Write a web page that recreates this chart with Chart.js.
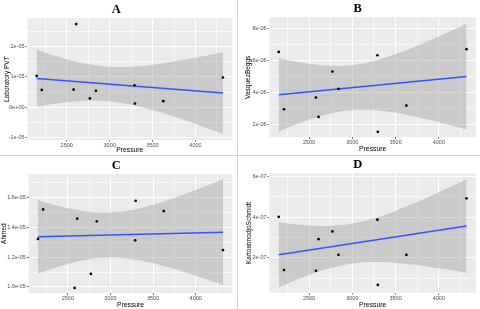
<!DOCTYPE html>
<html><head><meta charset="utf-8">
<script src="https://cdn.jsdelivr.net/npm/chart.js@4/dist/chart.umd.min.js"></script>
<style>
html,body{margin:0;padding:0;background:#fff;}
#wrap{position:relative;width:480px;height:309px;overflow:hidden;background:#fff;}
.p{position:absolute;}
.sep{position:absolute;background:#d6d6d6;}
</style></head><body>
<div id="wrap">
<div class="p" style="left:0;top:0;width:237px;height:155px"><canvas id="cA"></canvas></div>
<div class="p" style="left:238px;top:0;width:242px;height:155px"><canvas id="cB"></canvas></div>
<div class="p" style="left:0;top:156px;width:237px;height:153px"><canvas id="cC"></canvas></div>
<div class="p" style="left:238px;top:156px;width:242px;height:153px"><canvas id="cD"></canvas></div>
<div class="sep" style="left:237px;top:0;width:1px;height:309px"></div>
<div class="sep" style="left:0;top:155px;width:480px;height:1px"></div>
</div>
<script>
// ---- data ----
const pressure = [2150, 2210, 2580, 2610, 2770, 2840, 3290, 3295, 3625, 4320];
const labPVT = [1.03e-5, 0.57e-5, 0.58e-5, 2.74e-5, 0.29e-5, 0.54e-5, 0.72e-5, 0.12e-5, 0.20e-5, 0.98e-5];
const vasquezBeggs = [6.54e-6, 2.96e-6, 3.69e-6, 2.48e-6, 5.31e-6, 4.23e-6, 6.33e-6, 1.55e-6, 3.19e-6, 6.71e-6];
const ahmed = [1.322e-5, 1.52e-5, 0.993e-5, 1.458e-5, 1.087e-5, 1.44e-5, 1.313e-5, 1.578e-5, 1.509e-5, 1.247e-5];
const kartoatmodjo = [4.02e-7, 1.40e-7, 1.37e-7, 2.92e-7, 3.30e-7, 2.15e-7, 3.88e-7, 0.67e-7, 2.15e-7, 4.93e-7];

// fitted lines (end points)
const fitX = [2150, 4320];
const fitA = [0.95e-5, 0.47e-5];
const fitB = [3.87e-6, 5.00e-6];
const fitC = [1.336e-5, 1.367e-5];
const fitD = [2.15e-7, 3.57e-7];

// confidence band
const bandX = [2150, 2300, 2500, 2700, 2900, 3100, 3300, 3500, 3700, 3900, 4100, 4320];
const upperA = [1.883e-5, 1.748e-5, 1.584e-5, 1.449e-5, 1.360e-5, 1.324e-5, 1.341e-5, 1.397e-5, 1.479e-5, 1.578e-5, 1.686e-5, 1.813e-5];
const lowerA = [0.017e-5, 0.086e-5, 0.162e-5, 0.207e-5, 0.208e-5, 0.156e-5, 0.051e-5, -0.095e-5, -0.265e-5, -0.452e-5, -0.648e-5, -0.873e-5];
const upperB = [6.164e-6, 5.990e-6, 5.800e-6, 5.684e-6, 5.677e-6, 5.801e-6, 6.055e-6, 6.406e-6, 6.821e-6, 7.275e-6, 7.755e-6, 8.303e-6];
const lowerB = [1.576e-6, 1.906e-6, 2.304e-6, 2.628e-6, 2.845e-6, 2.929e-6, 2.883e-6, 2.740e-6, 2.533e-6, 2.287e-6, 2.015e-6, 1.697e-6];
const upperC = [1.582e-5, 1.557e-5, 1.529e-5, 1.508e-5, 1.499e-5, 1.504e-5, 1.522e-5, 1.552e-5, 1.588e-5, 1.629e-5, 1.672e-5, 1.722e-5];
const lowerC = [1.090e-5, 1.119e-5, 1.153e-5, 1.180e-5, 1.195e-5, 1.196e-5, 1.182e-5, 1.158e-5, 1.128e-5, 1.093e-5, 1.056e-5, 1.012e-5];
const upperD = [3.748e-7, 3.671e-7, 3.597e-7, 3.574e-7, 3.627e-7, 3.773e-7, 4.008e-7, 4.310e-7, 4.657e-7, 5.033e-7, 5.426e-7, 5.871e-7];
const lowerD = [0.552e-7, 0.825e-7, 1.161e-7, 1.446e-7, 1.655e-7, 1.771e-7, 1.798e-7, 1.756e-7, 1.671e-7, 1.557e-7, 1.426e-7, 1.269e-7];

// axis ticks
const xTicks = [2500, 3000, 3500, 4000];
const xTickLabels = ['2500', '3000', '3500', '4000'];
const yTicksA = [-1e-5, 0, 1e-5, 2e-5];
const yLabelsA = ['-1e-05', '0e+00', '1e-05', '2e-05'];
const yTicksB = [2e-6, 4e-6, 6e-6, 8e-6];
const yLabelsB = ['2e-06', '4e-06', '6e-06', '8e-06'];
const yTicksC = [1.0e-5, 1.2e-5, 1.4e-5, 1.6e-5];
const yLabelsC = ['1.0e-05', '1.2e-05', '1.4e-05', '1.6e-05'];
const yTicksD = [2e-7, 4e-7, 6e-7];
const yLabelsD = ['2e-07', '4e-07', '6e-07'];

const titles = ['A', 'B', 'C', 'D'];
const yTitles = ['Laboratory PVT', 'VasquezBeggs', 'Ahmed', 'KartoatmodjoSchmidt'];
const xTitle = 'Pressure';

// ---- drawing ----
const SANS = '"Liberation Sans", Arial, sans-serif';
const bgPlugin = {
  id: 'panelBg',
  beforeDraw(chart) {
    const a = chart.chartArea, c = chart.ctx;
    c.save(); c.fillStyle = '#EBEBEB';
    c.fillRect(a.left, a.top, a.right - a.left, a.bottom - a.top);
    c.restore();
  }
};

function tickSet(majors, labels, min, max) {
  const step = majors[1] - majors[0];
  const out = majors.map((v, i) => ({value: v, lab: labels[i]}));
  const minors = [majors[0] - step / 2].concat(majors.map(v => v + step / 2));
  minors.forEach(v => { if (v > min && v < max) out.push({value: v, minor: true}); });
  out.sort((a, b) => a.value - b.value);
  return out;
}

function makePanel(id, idx, ys, fit, up, lo, yTicks, yLabels, yMin, yMax, g) {
  const xMin = 2041, xMax = 4429;
  const pts = pressure.map((p, i) => ({x: p, y: ys[i]}));
  const line = fitX.map((p, i) => ({x: p, y: fit[i]}));
  const upper = bandX.map((p, i) => ({x: p, y: up[i]}));
  const lower = bandX.map((p, i) => ({x: p, y: lo[i]}));
  const gridCommon = {
    color: '#FFFFFF',
    lineWidth: c => (c.tick && c.tick.minor) ? 0.6 : 1,
    tickColor: c => (c.tick && c.tick.minor) ? 'rgba(0,0,0,0)' : '#333333',
    tickLength: 1.8,
    tickWidth: 0.7,
    drawTicks: true
  };
  new Chart(document.getElementById(id), {
    type: 'line',
    data: {
      datasets: [
        {data: pts, showLine: false, pointRadius: 1.35, pointBackgroundColor: '#000', pointBorderWidth: 0, order: 0},
        {data: line, borderColor: '#3355FF', borderWidth: 1.5, pointRadius: 0, fill: false, order: 1},
        {data: lower, borderWidth: 0, pointRadius: 0, fill: false, tension: 0.35, order: 2},
        {data: upper, borderWidth: 0, pointRadius: 0, fill: '-1', backgroundColor: 'rgba(153,153,153,0.4)', tension: 0.35, order: 3}
      ]
    },
    options: {
      responsive: true, maintainAspectRatio: false, animation: false, devicePixelRatio: 1,
      events: [],
      layout: {padding: {left: 0, right: g.right, top: 0, bottom: g.padB}},
      plugins: {
        legend: {display: false}, tooltip: {enabled: false},
        title: {display: true, text: titles[idx], color: '#000',
          font: {family: '"Liberation Serif", "Times New Roman", serif', size: 12.5, weight: 'bold', lineHeight: 1.2},
          padding: {top: g.tTop, bottom: g.tBot}}
      },
      scales: {
        x: {
          type: 'linear', min: xMin, max: xMax, bounds: 'data',
          border: {display: false},
          grid: gridCommon,
          afterBuildTicks: s => { s.ticks = tickSet(xTicks, xTickLabels, xMin, xMax); },
          afterFit: s => { s.height = g.xH; },
          ticks: {autoSkip: false, maxRotation: 0, padding: 0.5, color: '#4D4D4D',
            font: {family: SANS, size: 5.5},
            callback: (v, i, t) => t[i].lab || ''},
          title: {display: true, text: xTitle, color: '#000', font: {family: SANS, size: 6.8, lineHeight: 1.2}, padding: 0}
        },
        y: {
          type: 'linear', min: yMin, max: yMax, bounds: 'data',
          border: {display: false},
          grid: gridCommon,
          afterBuildTicks: s => { s.ticks = tickSet(yTicks, yLabels, yMin, yMax); },
          afterFit: s => { s.width = g.yW; },
          ticks: {autoSkip: false, padding: 1, color: '#4D4D4D',
            font: {family: SANS, size: 5.5},
            callback: (v, i, t) => t[i].lab || ''},
          title: {display: true, text: yTitles[idx], color: '#000', font: {family: SANS, size: 6.5, lineHeight: 1.2}, padding: {top: g.yT, bottom: 0}}
        }
      }
    },
    plugins: [bgPlugin]
  });
}

makePanel('cA', 0, labPVT, fitA, upperA, lowerA, yTicksA, yLabelsA, -1.08e-5, 2.93e-5,
  {right: 4.7, padB: 1.3, tTop: 2, tBot: 1.3, xH: 13.7, yW: 27.3, yT: 3.3});
makePanel('cB', 1, vasquezBeggs, fitB, upperB, lowerB, yTicksB, yLabelsB, 1.21e-6, 8.70e-6,
  {right: 2.7, padB: 1.8, tTop: 1.5, tBot: 0.8, xH: 15.9, yW: 31.3, yT: 6.5});
makePanel('cC', 2, ahmed, fitC, upperC, lowerC, yTicksC, yLabelsC, 0.957e-5, 1.758e-5,
  {right: 4.7, padB: 0.3, tTop: 2, tBot: 1, xH: 15.4, yW: 28.7, yT: 0.8});
makePanel('cD', 3, kartoatmodjo, fitD, upperD, lowerD, yTicksD, yLabelsD, 0.29e-7, 6.16e-7,
  {right: 2.7, padB: 0.3, tTop: 1.5, tBot: 0.8, xH: 16, yW: 31.3, yT: 7.5});
</script>
</body></html>
